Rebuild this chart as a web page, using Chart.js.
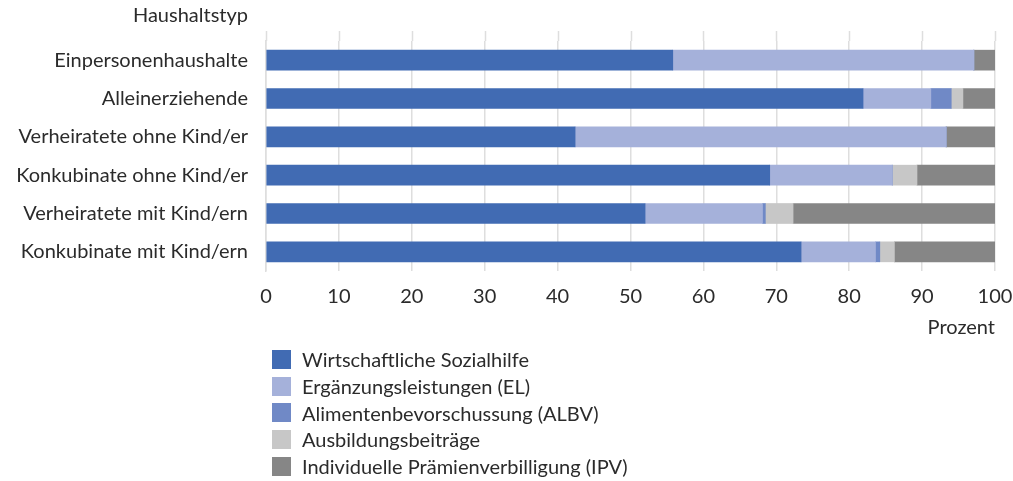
<!DOCTYPE html>
<html>
<head>
<meta charset="utf-8">
<script src="https://cdn.jsdelivr.net/npm/chart.js@4/dist/chart.umd.min.js"></script>
<style>
  html, body { margin: 0; padding: 0; background: #fff; }
  #wrap { position: relative; width: 1013px; height: 481px; }
  #c { position: absolute; left: 0; top: 0; }
  #ytitle { position: absolute; right: 765px; top: 2px; font: 20px Lato, sans-serif; color: #2b2b2b; white-space: nowrap; }
  #legend { position: absolute; left: 272px; top: 346px; font: 20px Lato, sans-serif; color: #2b2b2b; }
  #legend .item { display: flex; align-items: center; height: 26.7px; }
  #legend .sw { width: 19px; height: 19px; margin-right: 11px; flex: none; }
</style>
</head>
<body>
<div id="wrap">
  <canvas id="c" width="1013" height="481"></canvas>
  <div id="ytitle">Haushaltstyp</div>
  <div id="legend"></div>
</div>
<script>
const categories = [
  "Einpersonenhaushalte",
  "Alleinerziehende",
  "Verheiratete ohne Kind/er",
  "Konkubinate ohne Kind/er",
  "Verheiratete mit Kind/ern",
  "Konkubinate mit Kind/ern"
];
const seriesNames = [
  "Wirtschaftliche Sozialhilfe",
  "Ergänzungsleistungen (EL)",
  "Alimentenbevorschussung (ALBV)",
  "Ausbildungsbeiträge",
  "Individuelle Prämienverbilligung (IPV)"
];
const sozialhilfe = [55.8, 81.9, 42.4, 69.1, 52.0, 73.4];
const ergaenzung  = [41.3, 9.3, 50.9, 16.8, 16.1, 10.2];
const alimente    = [0, 2.8, 0, 0, 0.4, 0.6];
const ausbildung  = [0, 1.6, 0, 3.4, 3.8, 2.0];
const praemien    = [2.9, 4.4, 6.7, 10.7, 27.7, 13.8];
const xTicks = [0, 10, 20, 30, 40, 50, 60, 70, 80, 90, 100];
const xTitle = "Prozent";
const colors = ["#416bb3", "#a5b1da", "#7089c6", "#c7c7c7", "#868686"];

const seriesData = [sozialhilfe, ergaenzung, alimente, ausbildung, praemien];
const FONT = "Lato";
const TXT = "#2b2b2b";
const GRID = "#dedede";

const extendGrid = {
  id: "extendGrid",
  beforeDatasetsDraw(chart) {
    const x = chart.scales.x, ca = chart.chartArea, ctx = chart.ctx;
    ctx.save();
    ctx.strokeStyle = GRID;
    ctx.lineWidth = 1.5;
    xTicks.forEach(v => {
      const px = Math.round(x.getPixelForValue(v)) + 0.5;
      ctx.beginPath();
      ctx.moveTo(px, ca.top - 10);
      ctx.lineTo(px, ca.top);
      ctx.stroke();
    });
    ctx.restore();
  }
};

const chart = new Chart(document.getElementById("c"), {
  type: "bar",
  data: {
    labels: categories,
    datasets: seriesNames.map((n, i) => ({
      label: n,
      data: seriesData[i],
      backgroundColor: colors[i],
      borderWidth: 0,
      barThickness: 20
    }))
  },
  plugins: [extendGrid],
  options: {
    indexAxis: "y",
    responsive: false,
    animation: false,
    layout: { padding: { top: 41, right: 18, bottom: 141, left: 0 } },
    plugins: { legend: { display: false }, tooltip: { enabled: false } },
    scales: {
      x: {
        stacked: true,
        min: 0, max: 100,
        afterBuildTicks(s) { s.ticks = xTicks.map(v => ({ value: v })); },
        afterFit(s) { s.height = 69; s.paddingRight = 0; s.paddingLeft = 0; },
        grid: { color: GRID, lineWidth: 1.5, drawTicks: false },
        border: { display: false },
        ticks: { padding: 14, color: TXT, font: { family: FONT, size: 20 } },
        title: {
          display: true, text: xTitle, align: "end", color: TXT,
          font: { family: FONT, size: 20 }, padding: { top: 8, bottom: 0 }
        }
      },
      y: {
        stacked: true,
        afterFit(s) { s.width = 266; },
        grid: { display: false, drawTicks: false },
        border: { display: true, color: GRID, width: 1.5 },
        ticks: { padding: 18, color: TXT, font: { family: FONT, size: 20 } }
      }
    }
  }
});

const lg = document.getElementById("legend");
chart.data.datasets.forEach(ds => {
  const it = document.createElement("div");
  it.className = "item";
  const sw = document.createElement("span");
  sw.className = "sw";
  sw.style.background = ds.backgroundColor;
  const t = document.createElement("span");
  t.textContent = ds.label;
  it.appendChild(sw); it.appendChild(t);
  lg.appendChild(it);
});
</script>
</body>
</html>
